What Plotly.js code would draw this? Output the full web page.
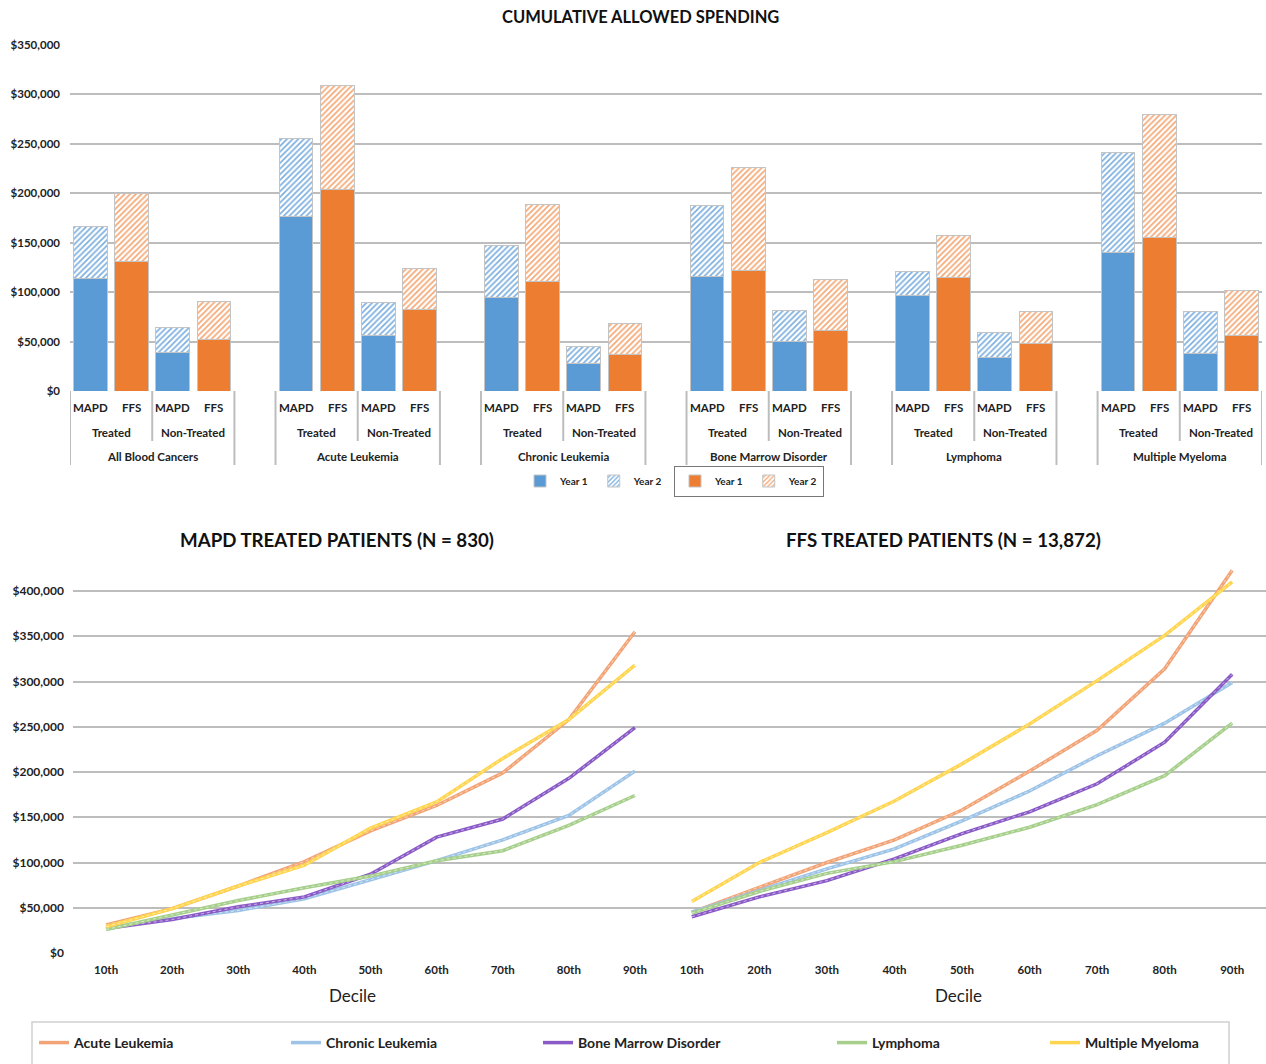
<!DOCTYPE html>
<html>
<head>
<meta charset="utf-8">
<script src="https://cdn.plot.ly/plotly-3.0.1.min.js"></script>
<style>html,body{margin:0;padding:0;background:#fff;}</style>
</head>
<body>
<div id="chart" style="width:1266px;height:1064px"></div>
<script>
// ---- Cumulative allowed spending per patient (bar chart) ----
const diseases = ['All Blood Cancers', 'Acute Leukemia', 'Chronic Leukemia', 'Bone Marrow Disorder', 'Lymphoma', 'Multiple Myeloma'];
const payers = ['MAPD', 'FFS'];
const cohorts = ['Treated', 'Non-Treated'];

const mapdTreatedY1    = [114000, 177000,  94800, 116300,  96600, 140400];
const mapdTreatedY2    = [ 52000,  78000,  52200,  71700,  24200, 101300];
const ffsTreatedY1     = [130500, 204000, 110500, 122000, 115000, 155000];
const ffsTreatedY2     = [ 69500, 104700,  78500, 103800,  42300, 124400];
const mapdNonTreatedY1 = [ 38500,  56000,  27800,  49600,  33800,  38300];
const mapdNonTreatedY2 = [ 26000,  33300,  17400,  32200,  24900,  41900];
const ffsNonTreatedY1  = [ 52600,  82300,  37200,  61500,  48200,  56300];
const ffsNonTreatedY2  = [ 38200,  41900,  30600,  51700,  32700,  45200];

const barTicks = [0, 50000, 100000, 150000, 200000, 250000, 300000, 350000];

// ---- Spending by decile, treated patients (line charts) ----
const deciles = ['10th', '20th', '30th', '40th', '50th', '60th', '70th', '80th', '90th'];
const lineSeries = ['Acute Leukemia', 'Chronic Leukemia', 'Bone Marrow Disorder', 'Lymphoma', 'Multiple Myeloma'];

const mapdAcute   = [31000, 49000, 74000, 101000, 135000, 163000, 199000, 258000, 355000];
const mapdChronic = [28000, 38000, 47000,  60000,  81000, 102000, 125000, 152000, 201000];
const mapdMarrow  = [27000, 37000, 51000,  62000,  87000, 128000, 148000, 193000, 249000];
const mapdLymph   = [26000, 42000, 58000,  72000,  85000, 102000, 113000, 141000, 174000];
const mapdMyeloma = [29000, 49000, 74000,  97000, 138000, 167000, 215000, 258000, 318000];

const ffsAcute   = [45000,  73000, 100000, 125000, 158000, 201000, 246000, 314000, 423000];
const ffsChronic = [45000,  69000,  93000, 115000, 146000, 179000, 218000, 254000, 299000];
const ffsMarrow  = [40000,  62000,  80000, 104000, 132000, 156000, 187000, 233000, 308000];
const ffsLymph   = [44000,  68000,  88000, 101000, 119000, 139000, 164000, 196000, 254000];
const ffsMyeloma = [57000, 100000, 133000, 168000, 209000, 253000, 301000, 351000, 410000];

const lineTicks = [0, 50000, 100000, 150000, 200000, 250000, 300000, 350000, 400000];

// ---- styling ----
const W = 1266, H = 1064;
const px = v => v / W;
const py = v => 1 - v / H;
const FONT = 'Lato, "Open Sans", "Liberation Sans", sans-serif';
const BLUE = '#5B9BD5', ORANGE = '#ED7D31';
const GRID = '#bdbdbd';
const lineColors = ['#F2A477', '#9DC3E6', '#8A5BC6', '#A6CF8B', '#FFD54F'];
const dollars = v => '$' + v.toLocaleString('en-US');

// slot of a bar: five slots per disease (four bars and a gap)
const slot = (g, cohort, payer) => 5 * g + 2 * cohort + payer;

const mapdX = [], mapdY1 = [], mapdY2 = [], ffsX = [], ffsY1 = [], ffsY2 = [];
diseases.forEach((d, g) => {
  mapdX.push(slot(g, 0, 0), slot(g, 1, 0));
  mapdY1.push(mapdTreatedY1[g], mapdNonTreatedY1[g]);
  mapdY2.push(mapdTreatedY2[g], mapdNonTreatedY2[g]);
  ffsX.push(slot(g, 0, 1), slot(g, 1, 1));
  ffsY1.push(ffsTreatedY1[g], ffsNonTreatedY1[g]);
  ffsY2.push(ffsTreatedY2[g], ffsNonTreatedY2[g]);
});

const barLine = {color: '#c4c4c4', width: 1};
const traces = [
  {type: 'bar', name: 'Year 1', x: mapdX, y: mapdY1, xaxis: 'x', yaxis: 'y', legend: 'legend',
   marker: {color: BLUE, line: barLine}, hoverinfo: 'y'},
  {type: 'bar', name: 'Year 2', x: mapdX, y: mapdY2, xaxis: 'x', yaxis: 'y', legend: 'legend',
   marker: {color: '#ffffff', line: barLine,
            pattern: {shape: '/', fgcolor: '#79ADDE', bgcolor: '#ffffff', size: 4, solidity: 0.4}}, hoverinfo: 'y'},
  {type: 'bar', name: 'Year 1', x: ffsX, y: ffsY1, xaxis: 'x', yaxis: 'y', legend: 'legend2',
   marker: {color: ORANGE, line: barLine}, hoverinfo: 'y'},
  {type: 'bar', name: 'Year 2', x: ffsX, y: ffsY2, xaxis: 'x', yaxis: 'y', legend: 'legend2',
   marker: {color: '#ffffff', line: barLine,
            pattern: {shape: '/', fgcolor: '#F4A672', bgcolor: '#ffffff', size: 4, solidity: 0.4}}, hoverinfo: 'y'}
];

const mapdLines = [mapdAcute, mapdChronic, mapdMarrow, mapdLymph, mapdMyeloma];
const ffsLines  = [ffsAcute, ffsChronic, ffsMarrow, ffsLymph, ffsMyeloma];
// the first three series sit in one legend block, the last two in another
const legendOf = i => (i < 3 ? 'legend3' : 'legend4');

function addLines(sets, xa, ya, showLegend) {
  sets.forEach((vals, i) => {
    traces.push({type: 'scatter', mode: 'lines', name: lineSeries[i], x: deciles, y: vals,
      xaxis: xa, yaxis: ya, legend: legendOf(i), legendgroup: lineSeries[i], showlegend: showLegend,
      line: {color: lineColors[i], width: 3.5}, hoverinfo: 'y'});
    traces.push({type: 'scatter', mode: 'lines', name: lineSeries[i], x: deciles, y: vals,
      xaxis: xa, yaxis: ya, legend: legendOf(i), legendgroup: lineSeries[i], showlegend: false,
      line: {color: 'rgba(255,255,255,0.55)', width: 1, dash: 'dot'}, hoverinfo: 'skip'});
  });
}
addLines(mapdLines, 'x2', 'y2', true);
addLines(ffsLines, 'x3', 'y3', false);

// category labels and bracket lines under the bars
const annotations = [];
const shapes = [];
const catFont = {family: FONT, size: 11.5, color: '#222', weight: 'bold'};
diseases.forEach((d, g) => {
  cohorts.forEach((c, ci) => {
    payers.forEach((p, pi) => {
      annotations.push({xref: 'x', yref: 'paper', x: slot(g, ci, pi), y: py(408), text: p,
        showarrow: false, font: catFont, xanchor: 'center', yanchor: 'middle'});
    });
    annotations.push({xref: 'x', yref: 'paper', x: slot(g, ci, 0) + 0.5, y: py(432), text: c,
      showarrow: false, font: catFont, xanchor: 'center', yanchor: 'middle'});
  });
  annotations.push({xref: 'x', yref: 'paper', x: slot(g, 0, 0) + 1.5, y: py(456), text: d,
    showarrow: false, font: catFont, xanchor: 'center', yanchor: 'middle'});
  [[slot(g, 0, 0) - 0.5, 465], [slot(g, 1, 0) - 0.5, 441], [slot(g, 1, 1) + 0.5, 465]].forEach(([xv, bottom]) => {
    shapes.push({type: 'line', xref: 'x', yref: 'paper', x0: xv, x1: xv, y0: py(391), y1: py(bottom),
      line: {color: GRID, width: 2}});
  });
});

// titles
annotations.push({xref: 'paper', yref: 'paper', x: px(640), y: py(17), text: 'CUMULATIVE ALLOWED SPENDING',
  showarrow: false, font: {family: FONT, size: 16.5, color: '#111', weight: 'bold'}, xanchor: 'center', yanchor: 'middle'});
annotations.push({xref: 'paper', yref: 'paper', x: px(337), y: py(540), text: 'MAPD TREATED PATIENTS (N = 830)',
  showarrow: false, font: {family: FONT, size: 18.7, color: '#111', weight: 'bold'}, xanchor: 'center', yanchor: 'middle'});
annotations.push({xref: 'paper', yref: 'paper', x: px(943), y: py(540), text: 'FFS TREATED PATIENTS (N = 13,872)',
  showarrow: false, font: {family: FONT, size: 18.7, color: '#111', weight: 'bold'}, xanchor: 'center', yanchor: 'middle'});
[353, 958].forEach(xv => annotations.push({xref: 'paper', yref: 'paper', x: px(xv), y: py(995), text: 'Decile',
  showarrow: false, font: {family: FONT, size: 17, color: '#222'}, xanchor: 'center', yanchor: 'middle'}));

// frame of the line legend
shapes.push({type: 'rect', xref: 'paper', yref: 'paper', x0: px(32), x1: px(1229), y0: py(1080), y1: py(1022),
  line: {color: '#d0d0d0', width: 1.5}, fillcolor: 'rgba(0,0,0,0)'});

const barTickFont = {family: FONT, size: 11.5, color: '#222', weight: 'bold'};
const lineTickFont = {family: FONT, size: 12, color: '#222', weight: 'bold'};
const catTickFont = {family: FONT, size: 11.5, color: '#222', weight: 'bold'};
const lineDomain = [py(953), py(953 - 430 * 0.905)];
const lineLegendFont = {family: FONT, size: 14, color: '#222', weight: 'bold'};
const barLegendFont = {family: FONT, size: 10, color: '#222', weight: 'bold'};

const layout = {
  width: W, height: H,
  margin: {l: 0, r: 0, t: 0, b: 0},
  paper_bgcolor: '#ffffff', plot_bgcolor: 'rgba(0,0,0,0)',
  font: {family: FONT},
  barmode: 'stack', bargap: 0.18,
  showlegend: true,
  xaxis: {domain: [px(70), px(1262)], range: [-0.5, 28.5], anchor: 'y',
          showgrid: false, zeroline: false, showticklabels: false, ticks: '', fixedrange: true},
  yaxis: {domain: [py(391), py(45)], range: [0, 350000], anchor: 'x',
          tickmode: 'array', tickvals: barTicks, ticktext: barTicks.map(dollars), tickfont: barTickFont,
          gridcolor: GRID, gridwidth: 2, zeroline: false, ticks: '', ticklabelstandoff: 9},
  xaxis2: {domain: [px(73), px(668)], anchor: 'y2', type: 'category', range: [-0.5, 8.5],
           showgrid: false, zeroline: false, ticks: '', tickfont: catTickFont, ticklabelstandoff: 8},
  yaxis2: {domain: lineDomain, range: [0, 430000], anchor: 'x2',
           tickmode: 'array', tickvals: lineTicks, ticktext: lineTicks.map(dollars), tickfont: lineTickFont,
           gridcolor: GRID, gridwidth: 2, zeroline: false, ticks: '', ticklabelstandoff: 8},
  xaxis3: {domain: [px(658), px(1266)], anchor: 'y3', type: 'category', range: [-0.5, 8.5],
           showgrid: false, zeroline: false, ticks: '', tickfont: catTickFont, ticklabelstandoff: 8},
  yaxis3: {domain: lineDomain, range: [0, 430000], anchor: 'x3', tickmode: 'array', tickvals: lineTicks,
           showticklabels: false, gridcolor: GRID, gridwidth: 2, zeroline: false, ticks: ''},
  legend: {orientation: 'h', x: px(668), xanchor: 'right', y: py(481), yanchor: 'middle',
           font: barLegendFont, bgcolor: 'rgba(0,0,0,0)', traceorder: 'normal', itemwidth: 30},
  legend2: {orientation: 'h', x: px(674), xanchor: 'left', y: py(481), yanchor: 'middle',
           font: barLegendFont, bgcolor: 'rgba(0,0,0,0)',
           bordercolor: '#777', borderwidth: 1, traceorder: 'normal', itemwidth: 30},
  legend3: {orientation: 'h', x: px(34), xanchor: 'left', y: py(1043), yanchor: 'middle',
           font: lineLegendFont, bgcolor: 'rgba(0,0,0,0)',
           traceorder: 'normal', itemwidth: 30, entrywidth: 207},
  legend4: {orientation: 'h', x: px(832), xanchor: 'left', y: py(1043), yanchor: 'middle',
           font: lineLegendFont, bgcolor: 'rgba(0,0,0,0)',
           traceorder: 'normal', itemwidth: 30, entrywidth: 168},
  annotations: annotations,
  shapes: shapes
};

Plotly.newPlot('chart', traces, layout, {displayModeBar: false, staticPlot: true});
</script>
</body>
</html>
